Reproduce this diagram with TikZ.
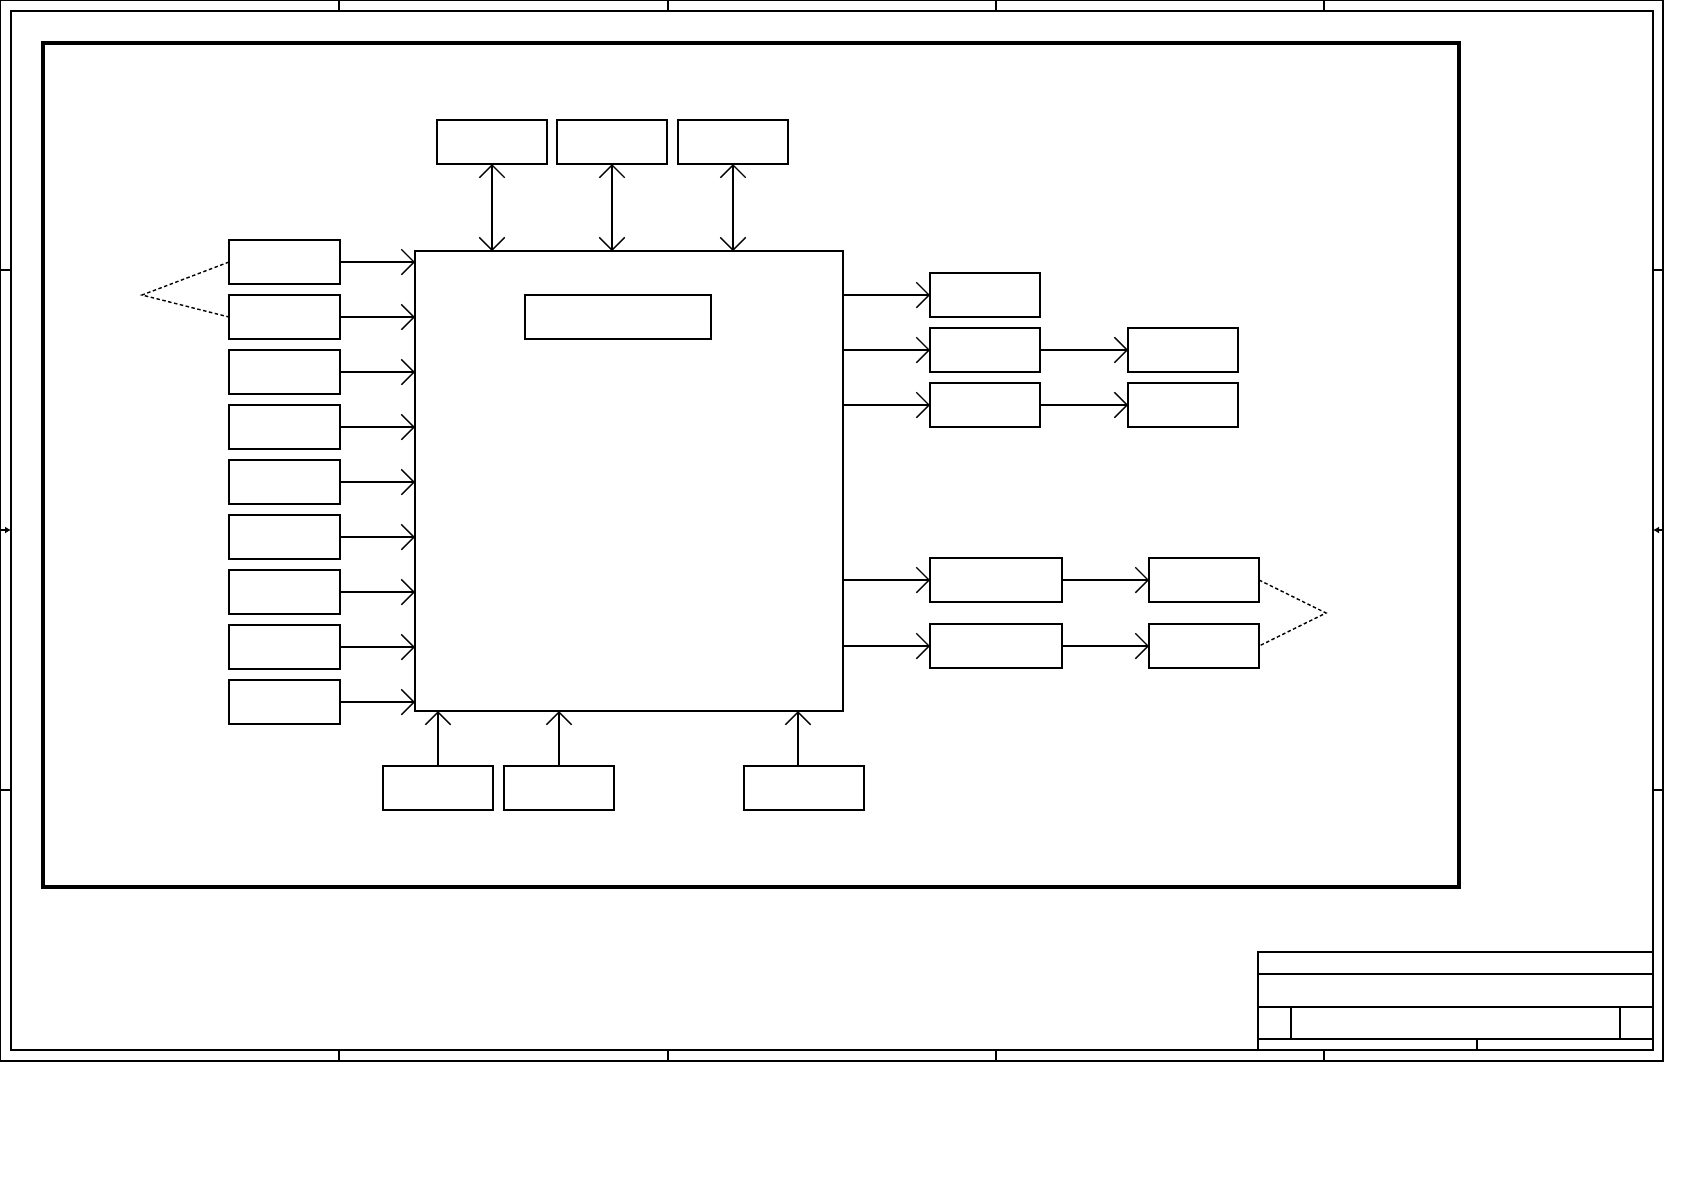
\documentclass[tikz,border=0pt]{standalone}
\usepackage{tikz}
\usetikzlibrary{positioning,arrows.meta}

\begin{document}
\begin{tikzpicture}[
  box/.style={draw, line width=0.4pt, inner sep=0pt, outer sep=0pt, minimum width=1.10cm, minimum height=0.44cm},
  inbox/.style={box, minimum width=1.11cm},
  widebox/.style={box, minimum width=1.32cm},
  arrow/.style={arrows={-Straight Barb[angle=90:1.8mm]}, line width=0.4pt},
  twoway/.style={arrows={Straight Barb[angle=90:1.8mm]-Straight Barb[angle=90:1.8mm]}, line width=0.4pt},
  link/.style={dash pattern=on 0.35mm off 0.25mm, line width=0.4pt},
  sheet/.style={line width=0.4pt},
  border/.style={line width=1.2pt}
]
\useasboundingbox (0,0) rectangle (16.84,-11.91);

\draw[sheet] (0,0) rectangle (16.63,-10.61);
\draw[sheet] (0.11,-0.11) rectangle (16.53,-10.50);
\draw[sheet] (3.39,0) -- (3.39,-0.11) (6.68,0) -- (6.68,-0.11) (9.96,0) -- (9.96,-0.11) (13.24,0) -- (13.24,-0.11);
\draw[sheet] (3.39,-10.50) -- (3.39,-10.61) (6.68,-10.50) -- (6.68,-10.61) (9.96,-10.50) -- (9.96,-10.61) (13.24,-10.50) -- (13.24,-10.61);
\draw[sheet] (0,-2.70) -- (0.11,-2.70) (0,-7.90) -- (0.11,-7.90);
\draw[sheet] (16.53,-2.70) -- (16.63,-2.70) (16.53,-7.90) -- (16.63,-7.90);
\draw[sheet, -{Latex[length=0.6mm,width=0.7mm]}] (0,-5.30) -- (0.11,-5.30);
\draw[sheet, -{Latex[length=0.6mm,width=0.7mm]}] (16.63,-5.30) -- (16.53,-5.30);

\draw[sheet] (12.58,-9.52) rectangle (16.53,-10.50);
\draw[sheet] (12.58,-9.74) -- (16.53,-9.74) (12.58,-10.07) -- (16.53,-10.07) (12.58,-10.39) -- (16.53,-10.39);
\draw[sheet] (12.91,-10.07) -- (12.91,-10.39) (16.20,-10.07) -- (16.20,-10.39) (14.77,-10.39) -- (14.77,-10.50);

\draw[border] (0.43,-0.43) rectangle (14.59,-8.87);

\node[box, minimum width=4.28cm, minimum height=4.60cm] (main) at (6.29,-4.81) {};
\node[box, minimum width=1.86cm, anchor=north west] (core) at ([xshift=1.10cm, yshift=-0.44cm]main.north west) {};

\node[inbox, anchor=north east] (in1) at ([xshift=-0.75cm, yshift=0.11cm]main.north west) {};
\node[inbox, below=0.11cm of in1] (in2) {};
\node[inbox, below=0.11cm of in2] (in3) {};
\node[inbox, below=0.11cm of in3] (in4) {};
\node[inbox, below=0.11cm of in4] (in5) {};
\node[inbox, below=0.11cm of in5] (in6) {};
\node[inbox, below=0.11cm of in6] (in7) {};
\node[inbox, below=0.11cm of in7] (in8) {};
\node[inbox, below=0.11cm of in8] (in9) {};

\node[box, anchor=south west] (bus1) at ([xshift=0.22cm, yshift=0.87cm]main.north west) {};
\node[box, right=0.10cm of bus1] (bus2) {};
\node[box, right=0.11cm of bus2] (bus3) {};

\node[box, anchor=north west] (out1) at ([xshift=0.87cm, yshift=-0.22cm]main.north east) {};
\node[box, below=0.11cm of out1] (out2) {};
\node[box, below=0.11cm of out2] (out3) {};
\node[box, right=0.88cm of out2] (dev2) {};
\node[box, right=0.88cm of out3] (dev3) {};

\node[widebox, anchor=north west] (drv1) at ([yshift=-1.31cm]out3.south west) {};
\node[widebox, below=0.22cm of drv1] (drv2) {};
\node[box, right=0.87cm of drv1] (port1) {};
\node[box, right=0.87cm of drv2] (port2) {};

\node[box, anchor=north west] (src1) at ([xshift=-0.32cm, yshift=-0.55cm]main.south west) {};
\node[box, right=0.11cm of src1] (src2) {};
\node[box, minimum width=1.20cm, right=1.30cm of src2] (src3) {};

\coordinate (tap) at ([xshift=-0.06cm]src3.north);
\coordinate (inj) at ([xshift=-0.87cm, yshift=-0.33cm]in1.west);
\coordinate (outj) at ([xshift=0.67cm, yshift=-0.33cm]port1.east);

\draw[arrow] (in1) -- (in1 -| main.west);
\draw[arrow] (in2) -- (in2 -| main.west);
\draw[arrow] (in3) -- (in3 -| main.west);
\draw[arrow] (in4) -- (in4 -| main.west);
\draw[arrow] (in5) -- (in5 -| main.west);
\draw[arrow] (in6) -- (in6 -| main.west);
\draw[arrow] (in7) -- (in7 -| main.west);
\draw[arrow] (in8) -- (in8 -| main.west);
\draw[arrow] (in9) -- (in9 -| main.west);

\draw[twoway] (bus1) -- (bus1 |- main.north);
\draw[twoway] (bus2) -- (bus2 |- main.north);
\draw[twoway] (bus3) -- (bus3 |- main.north);

\draw[arrow] (main.east |- out1) -- (out1);
\draw[arrow] (main.east |- out2) -- (out2);
\draw[arrow] (main.east |- out3) -- (out3);
\draw[arrow] (out2) -- (dev2);
\draw[arrow] (out3) -- (dev3);

\draw[arrow] (main.east |- drv1) -- (drv1);
\draw[arrow] (main.east |- drv2) -- (drv2);
\draw[arrow] (drv1) -- (port1);
\draw[arrow] (drv2) -- (port2);

\draw[arrow] (src1) -- (src1 |- main.south);
\draw[arrow] (src2) -- (src2 |- main.south);
\draw[arrow] (tap) -- (tap |- main.south);

\draw[link] (in1.west) -- (inj) -- (in2.west);
\draw[link] (port1.east) -- (outj) -- (port2.east);
\end{tikzpicture}
\end{document}
